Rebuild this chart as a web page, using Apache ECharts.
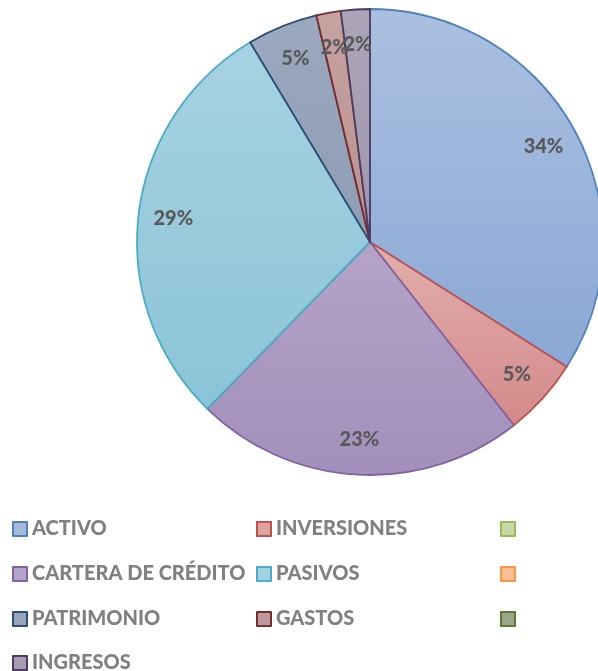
<!DOCTYPE html>
<html>
<head>
<meta charset="utf-8">
<script src="https://cdn.jsdelivr.net/npm/echarts@6/dist/echarts.min.js"></script>
<style>
  html, body { margin: 0; padding: 0; background: #fff; }
  #main { width: 598px; height: 671px; }
</style>
</head>
<body>
<div id="main"></div>
<script>
// categorias (las vacias vienen del rango de Excel, sin valor)
var categorias = ['ACTIVO', 'INVERSIONES', ' ', 'CARTERA DE CRÉDITO', 'PASIVOS', '  ', 'PATRIMONIO', 'GASTOS', '   ', 'INGRESOS'];
var valores = [34.0, 5.4, 0, 22.9, 29.1, 0, 4.9, 1.7, 0, 2.0];

// colores estilo Office 2010
var bordes = ['#4f81bd', '#c0504d', '#9bbb59', '#8064a2', '#4bacc6', '#f79646', '#2c4d75', '#772c2a', '#5f7530', '#4d3b62'];
var claros = ['#abc0e0', '#e1afac', '#cddcae', '#b5a3c8', '#a7d2e1', '#fbc49b', '#9aa9be', '#c6a2a1', '#a3ad8e', '#aca4b8'];
var oscuros = ['#8aa8d5', '#d4898a', '#bcd08f', '#a28fbb', '#8bc4d7', '#f9a86c', '#8e9db3', '#b99291', '#95a07f', '#a097ae'];
var legendaFill = ['#a5b9dc', '#dba3a1', '#c6d9a5', '#b3a3c8', '#a3cfe0', '#fbbf93', '#97a5bb', '#bd9a99', '#9aa78a', '#a59db3'];

var myChart = echarts.init(document.getElementById('main'));

var datos = categorias.map(function (n, i) {
  return {
    name: n,
    value: valores[i],
    itemStyle: {
      color: new echarts.graphic.LinearGradient(0, 0, 0, 1, [
        { offset: 0, color: claros[i] },
        { offset: 1, color: oscuros[i] }
      ]),
      borderColor: bordes[i],
      borderWidth: valores[i] > 0 ? 1.8 : 0
    }
  };
});

function itemLeyenda(idx) {
  return idx.map(function (i) {
    return {
      name: categorias[i],
      itemStyle: { color: legendaFill[i], borderColor: bordes[i], borderWidth: 2 }
    };
  });
}

var textoLeyenda = { fontFamily: 'Lato', fontWeight: 900, fontSize: 20, color: '#808080' };
var baseLeyenda = {
  orient: 'vertical',
  top: 519,
  padding: 0,
  itemWidth: 14,
  itemHeight: 14,
  itemGap: 25,
  icon: 'rect',
  selectedMode: false,
  textStyle: textoLeyenda
};

var option = {
  animation: false,
  legend: [
    Object.assign({}, baseLeyenda, { left: 12, data: itemLeyenda([0, 3, 6]) }),
    Object.assign({}, baseLeyenda, { left: 256, data: itemLeyenda([1, 4, 7]) }),
    Object.assign({}, baseLeyenda, { left: 500, data: itemLeyenda([2, 5, 8]) }),
    Object.assign({}, baseLeyenda, { left: 12, top: 653, data: itemLeyenda([9]) })
  ],
  series: [{
    type: 'pie',
    center: [370, 242],
    radius: [0, 233],
    startAngle: 90,
    clockwise: true,
    percentPrecision: 0,
    label: { show: false },
    labelLine: { show: false },
    emphasis: { disabled: true },
    data: datos
  }, {
    // solo etiquetas, un poco hacia el borde como en Excel
    type: 'pie',
    center: [370, 242],
    radius: [157, 233],
    startAngle: 90,
    percentPrecision: 0,
    silent: true,
    avoidLabelOverlap: false,
    labelLayout: { hideOverlap: false },
    itemStyle: { color: 'rgba(0,0,0,0)', borderWidth: 0 },
    label: {
      position: 'inside',
      fontFamily: 'Lato',
      fontWeight: 900,
      fontSize: 20,
      color: '#595959',
      formatter: function (p) { return p.value > 0 ? p.percent + '%' : ''; }
    },
    labelLine: { show: false },
    emphasis: { disabled: true },
    data: categorias.map(function (n, i) { return { name: n, value: valores[i] }; })
  }]
};

myChart.setOption(option);
</script>
</body>
</html>
